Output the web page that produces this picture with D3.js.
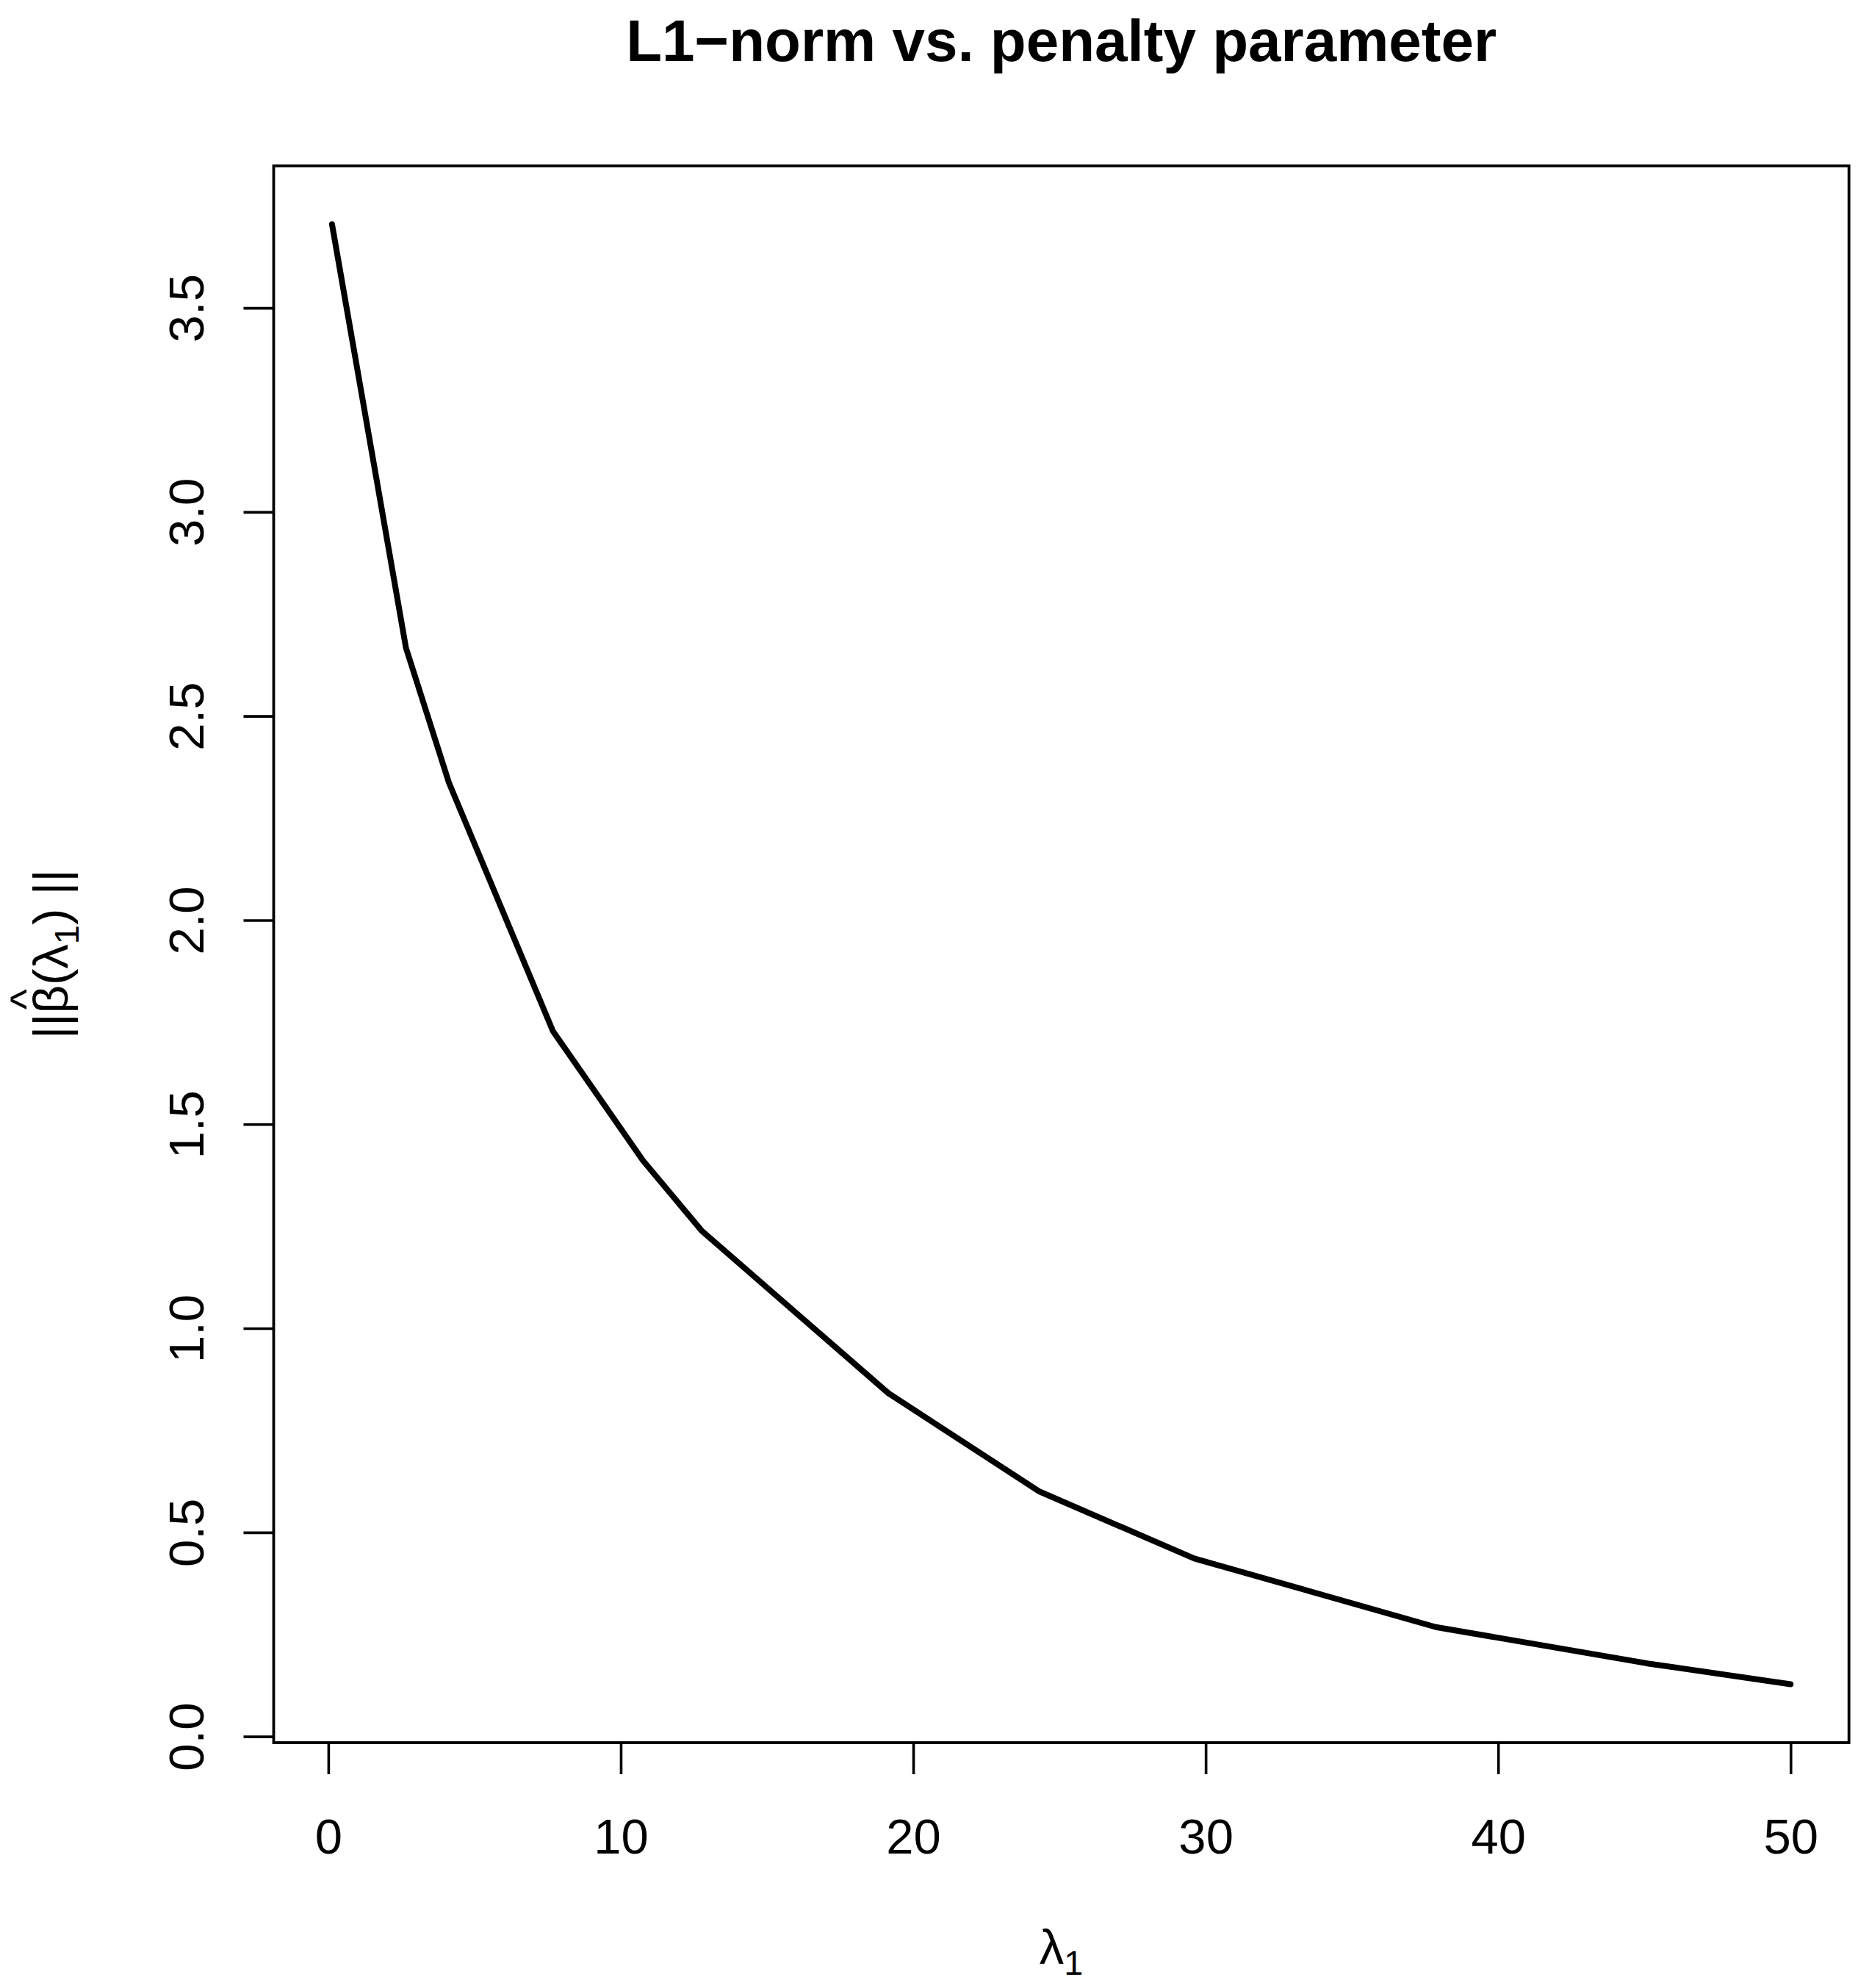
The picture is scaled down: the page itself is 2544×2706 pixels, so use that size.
<!DOCTYPE html>
<html>
<head>
<meta charset="utf-8">
<script src="https://cdn.jsdelivr.net/npm/d3@7"></script>
<style>
  html, body { margin: 0; padding: 0; background: #ffffff; }
  svg { display: block; }
  text { font-family: "Liberation Sans", Arial, Helvetica, sans-serif; fill: #000; }
</style>
</head>
<body>
<svg id="chart" width="2544" height="2706"></svg>
<script>
// ---- data ----
const lambdaVals = [0.126, 2.655, 4.123, 7.68, 10.76, 12.78, 19.15, 24.29, 29.61, 37.87, 45.10, 50.0];
const normVals   = [3.705, 2.667, 2.337, 1.728, 1.411, 1.238, 0.841, 0.601, 0.436, 0.268, 0.179, 0.128];
const xTicks = [0, 10, 20, 30, 40, 50];
const yTicks = [0.0, 0.5, 1.0, 1.5, 2.0, 2.5, 3.0, 3.5];
const titleText = "L1\u2212norm vs. penalty parameter";

// ---- layout ----
const W = 2544, H = 2706;
const plot = { left: 372.5, right: 2516.7, top: 225.7, bottom: 2372 };
const axisFont = 67, titleFont = 80;

const svg = d3.select("#chart");
svg.append("rect").attr("width", W).attr("height", H).attr("fill", "#fff");

function padded(ext) {
  const r = ext[1] - ext[0];
  return [ext[0] - 0.04 * r, ext[1] + 0.04 * r];
}
const x = d3.scaleLinear().domain(padded(d3.extent(lambdaVals))).range([plot.left, plot.right]);
const y = d3.scaleLinear().domain(padded(d3.extent(normVals))).range([plot.bottom, plot.top]);

// ---- curve ----
const pts = lambdaVals.map((l, i) => [l, normVals[i]]);
svg.append("path")
  .datum(pts)
  .attr("fill", "none")
  .attr("stroke", "#000")
  .attr("stroke-width", 8)
  .attr("stroke-linecap", "round")
  .attr("stroke-linejoin", "round")
  .attr("d", d3.line().x(d => x(d[0])).y(d => y(d[1])));

// ---- box ----
svg.append("rect")
  .attr("x", plot.left).attr("y", plot.top)
  .attr("width", plot.right - plot.left).attr("height", plot.bottom - plot.top)
  .attr("fill", "none").attr("stroke", "#000").attr("stroke-width", 3.8);

// ---- x axis ----
const gx = svg.append("g").attr("transform", `translate(0,${plot.bottom})`)
  .call(d3.axisBottom(x).tickValues(xTicks).tickSize(43).tickSizeOuter(0).tickFormat(d3.format("d")));
gx.select(".domain").remove();
gx.selectAll(".tick line").attr("stroke", "#000").attr("stroke-width", 3.6);
gx.selectAll(".tick text")
  .attr("y", 151).attr("dy", 0)
  .attr("font-size", axisFont)
  .attr("text-anchor", "middle")
  .style("font-family", '"Liberation Sans", Arial, sans-serif')
  .attr("fill", "#000");

// ---- y axis ----
const gy = svg.append("g").attr("transform", `translate(${plot.left},0)`)
  .call(d3.axisLeft(y).tickValues(yTicks).tickSize(41).tickSizeOuter(0).tickFormat(d3.format(".1f")));
gy.select(".domain").remove();
gy.selectAll(".tick line").attr("stroke", "#000").attr("stroke-width", 3.6);
gy.selectAll(".tick text")
  .attr("x", 0).attr("y", 0).attr("dy", 0)
  .attr("transform", "translate(-95.5,0) rotate(-90)")
  .attr("font-size", axisFont)
  .attr("text-anchor", "middle")
  .style("font-family", '"Liberation Sans", Arial, sans-serif')
  .attr("fill", "#000");

// ---- title ----
svg.append("text")
  .attr("x", (plot.left + plot.right) / 2)
  .attr("y", 83)
  .attr("text-anchor", "middle")
  .attr("font-size", titleFont)
  .attr("font-weight", "bold")
  .text(titleText);

// ---- x label: lambda_1 ----
const xl = svg.append("text")
  .attr("x", (plot.left + plot.right) / 2)
  .attr("y", 2673)
  .attr("text-anchor", "middle")
  .attr("font-size", axisFont);
xl.append("tspan").text("\u03BB");
xl.append("tspan").attr("font-size", axisFont * 0.7).attr("dy", 15).text("1");

// ---- y label: ||beta-hat(lambda_1) || ----
const cy = (plot.top + plot.bottom) / 2;
const yl = svg.append("g").attr("transform", `translate(92,${cy}) rotate(-90)`);
const ylt = yl.append("text")
  .attr("x", 0).attr("y", 0)
  .attr("text-anchor", "middle")
  .attr("font-size", axisFont);
ylt.append("tspan").text("||\u03B2(\u03BB");
ylt.append("tspan").attr("font-size", axisFont * 0.7).attr("dy", 15).text("1");
ylt.append("tspan").attr("dy", -15).text(") ||");
// hat over beta (character index 2)
const node = ylt.node();
let bx = 0;
try {
  const s = node.getStartPositionOfChar(2).x;
  const e = node.getEndPositionOfChar(2).x;
  bx = (s + e) / 2;
} catch (err) { bx = -60; }
yl.append("text")
  .attr("x", bx).attr("y", -36)
  .attr("text-anchor", "middle")
  .attr("font-size", 60)
  .text("^");
</script>
</body>
</html>
